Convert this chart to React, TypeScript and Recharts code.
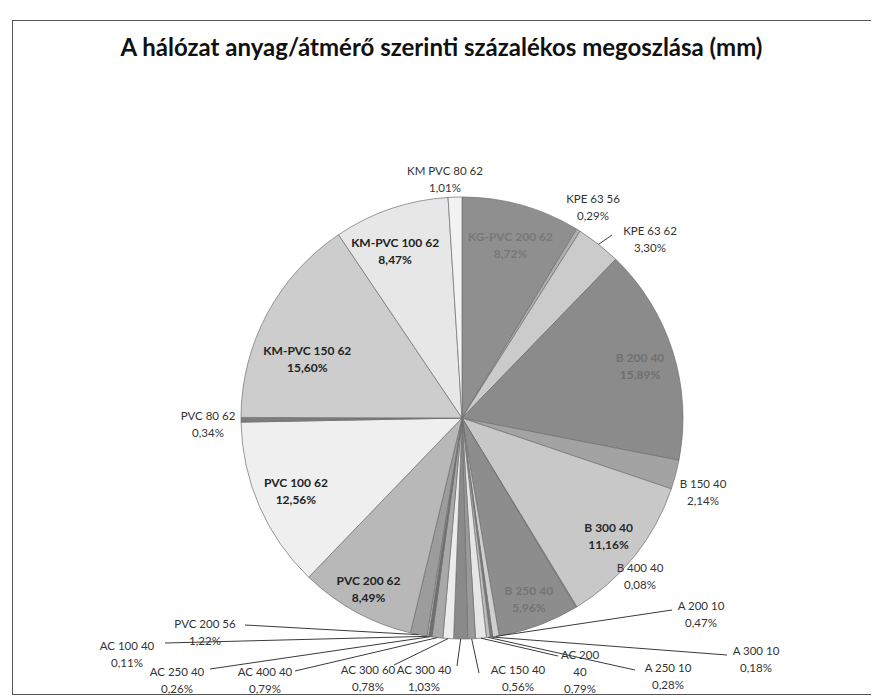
import { PieChart, Pie, Cell } from 'recharts';

// slices clockwise from 12 o'clock
const NAMES = [
  'KG-PVC 200 62', 'KPE 63 56', 'KPE 63 62', 'B 200 40', 'B 150 40', 'B 300 40',
  'B 400 40', 'B 250 40', 'A 200 10', 'A 300 10', 'A 250 10', 'AC 200 40',
  'AC 150 40', 'AC 300 40', 'AC 300 60', 'AC 400 40', 'AC 250 40', 'AC 100 40',
  'PVC 200 56', 'PVC 200 62', 'PVC 100 62', 'PVC 80 62', 'KM-PVC 150 62',
  'KM-PVC 100 62', 'KM PVC 80 62',
];
const SHARES = [
  8.72, 0.29, 3.30, 15.89, 2.14, 11.16,
  0.08, 5.96, 0.47, 0.18, 0.28, 0.79,
  0.56, 1.03, 0.78, 0.79, 0.26, 0.11,
  1.22, 8.49, 12.56, 0.34, 15.60,
  8.47, 1.01,
];

const GRAYS = [
  '#8f8f8f', '#b0b0b0', '#cbcbcb', '#8b8b8b', '#a3a3a3', '#c8c8c8',
  '#a0a0a0', '#8d8d8d', '#cfcfcf', '#7a7a7a', '#bdbdbd', '#e6e6e6',
  '#9a9a9a', '#8a8a8a', '#ececec', '#a8a8a8', '#6e6e6e', '#d0d0d0',
  '#9c9c9c', '#b8b8b8', '#efefef', '#7c7c7c', '#cdcdcd',
  '#e7e7e7', '#f2f2f2',
];

const data = NAMES.map((name, i) => ({ name, value: SHARES[i] }));

// inside labels: [radius factor, angle nudge (deg, ccw), text colour]
const INSIDE: Record<string, [number, number, string]> = {
  'KG-PVC 200 62': [0.815, 0, '#787878'],
  'B 200 40': [0.84, -1, '#707070'],
  'B 300 40': [0.85, 0, '#2a2a2a'],
  'B 250 40': [0.87, 0, '#747474'],
  'PVC 200 62': [0.88, 0, '#222'],
  'PVC 100 62': [0.82, 0, '#222'],
  'KM-PVC 150 62': [0.75, 7, '#222'],
  'KM-PVC 100 62': [0.815, 3, '#222'],
};

// outside labels: offset of first text line from pie centre, optional leader end
const OUTSIDE: Record<string, { at: [number, number]; end?: [number, number]; lines?: string[] }> = {
  'KM PVC 80 62': { at: [-17, -248] },
  'KPE 63 56': { at: [131, -220] },
  'KPE 63 62': { at: [188, -188], end: [150, -183] },
  'B 150 40': { at: [241, 65] },
  'B 400 40': { at: [178, 149] },
  'A 200 10': { at: [239, 187], end: [210, 192] },
  'A 300 10': { at: [294, 232], end: [265, 237] },
  'A 250 10': { at: [206, 249], end: [173, 252] },
  'AC 200 40': { at: [118, 236], end: [96, 238], lines: ['AC 200', '40'] },
  'AC 150 40': { at: [56, 251], end: [17, 255] },
  'AC 300 40': { at: [-38, 251], end: [-5, 248] },
  'AC 300 60': { at: [-94, 251], end: [-68, 247] },
  'AC 400 40': { at: [-197, 253], end: [-167, 253] },
  'AC 250 40': { at: [-285, 253], end: [-252, 251] },
  'AC 100 40': { at: [-335, 227], end: [-297, 225] },
  'PVC 200 56': { at: [-257, 205], end: [-217, 207] },
  'PVC 80 62': { at: [-254, -3] },
};

const CX = 457;
const CY = 413;
const R = 221;
const RAD = Math.PI / 180;
const LINE_H = 17;
const FONT = 'Lato, "Open Sans", sans-serif';

const fmt = (v: number) => `${v.toFixed(2).replace('.', ',')}%`;

function renderLabel(p: any) {
  const cx = typeof p.cx === 'number' ? p.cx : CX;
  const cy = typeof p.cy === 'number' ? p.cy : CY;
  const name = NAMES[p.index];
  const pct = fmt(SHARES[p.index]);
  const inside = INSIDE[name];

  if (inside) {
    const [k, nudge, color] = inside;
    const a = (p.midAngle + nudge) * RAD;
    const x = cx + p.outerRadius * k * Math.cos(-a);
    const y = cy + p.outerRadius * k * Math.sin(-a);
    return (
      <text x={x} y={y} fill={color} fontSize={12} fontWeight={700} fontFamily={FONT}
        textAnchor="middle" dominantBaseline="central">
        <tspan x={x} y={y - LINE_H / 2}>{name}</tspan>
        <tspan x={x} y={y + LINE_H / 2}>{pct}</tspan>
      </text>
    );
  }

  const spot = OUTSIDE[name];
  if (!spot) return null;
  const lines = [...(spot.lines ?? [name]), pct];
  const x = cx + spot.at[0];
  const y = cy + spot.at[1];
  const edgeX = cx + p.outerRadius * Math.cos(-p.midAngle * RAD);
  const edgeY = cy + p.outerRadius * Math.sin(-p.midAngle * RAD);
  return (
    <g>
      {spot.end && (
        <line x1={edgeX} y1={edgeY} x2={cx + spot.end[0]} y2={cy + spot.end[1]}
          stroke="#3a3a3a" strokeWidth={1} />
      )}
      <text x={x} y={y} fill="#333" fontSize={11.5} fontFamily={FONT}
        textAnchor="middle" dominantBaseline="central">
        {lines.map((t, i) => (
          <tspan key={i} x={x} y={y + i * LINE_H}>{t}</tspan>
        ))}
      </text>
    </g>
  );
}

export default function App() {
  return (
    <div style={{ position: 'absolute', left: 0, top: 0, width: 873, height: 697, background: '#fff', overflow: 'hidden' }}>
      <div style={{
        position: 'absolute', left: 12, top: 20, width: 858, height: 673,
        borderTop: '1px solid #555', borderLeft: '1px solid #555', borderBottom: '1px solid #555',
      }} />
      <div style={{
        position: 'absolute', left: 5, top: 32, width: 873, textAlign: 'center',
        fontFamily: FONT, fontWeight: 700, fontSize: 24, color: '#111', lineHeight: '30px',
      }}>
        A hálózat anyag/átmérő szerinti százalékos megoszlása (mm)
      </div>
      <div style={{ position: 'absolute', left: 0, top: 0 }}>
        <PieChart width={873} height={697}>
          <Pie
            data={data}
            dataKey="value"
            nameKey="name"
            cx={CX}
            cy={CY}
            outerRadius={R}
            startAngle={90}
            endAngle={-270}
            stroke="#707070"
            strokeWidth={0.7}
            label={renderLabel}
            labelLine={false}
            isAnimationActive={false}
          >
            {data.map((d, i) => (
              <Cell key={d.name} fill={GRAYS[i]} />
            ))}
          </Pie>
        </PieChart>
      </div>
    </div>
  );
}
